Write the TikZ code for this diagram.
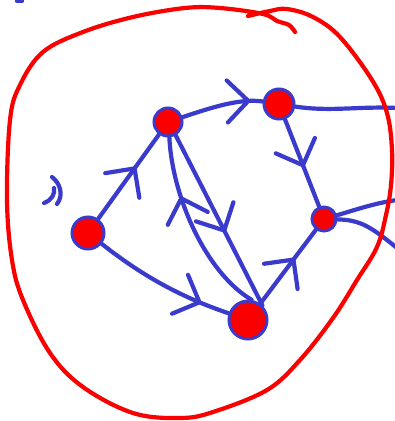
\documentclass[tikz,border=0pt]{standalone}
\usepackage{xcolor}
\usepackage{tikz}
\usetikzlibrary{arrows.meta,decorations.markings}
\definecolor{penblue}{RGB}{58,58,204}
\definecolor{penred}{RGB}{250,0,0}
\tikzset{
  vertexnode/.style={circle, draw=penblue, fill=penred, line width=3pt, inner sep=0pt},
  link/.style={penblue, line width=4.2pt, line cap=round, line join=round},
  flow/.style={link, postaction={decorate}, decoration={markings,
    mark=at position #1 with {\arrow{Straight Barb[round, length=21pt, width=42pt]}}}},
  outline/.style={penred, line width=4.2pt, line cap=round, line join=round}
}
\begin{document}
\begin{tikzpicture}[x=1pt, y=1pt]
\useasboundingbox (0,0) rectangle (395,-421);

\node[vertexnode, minimum size=32pt] (A) at (88,-233) {};
\node[vertexnode, minimum size=28pt] (B) at (168,-122) {};
\node[vertexnode, minimum size=30pt] (C) at (279,-104) {};
\node[vertexnode, minimum size=24pt] (D) at (324,-219) {};
\node[vertexnode, minimum size=38pt] (E) at (248,-320) {};

\coordinate (cout) at (397,-108);
\coordinate (dout) at (397,-200);
\coordinate (dlow) at (397,-248);

\draw[flow=0.62] (A) -- (B);
\draw[flow=0.8] (A) .. controls (150,-282) and (190,-300) .. (E);
\draw[flow=0.85] (B) .. controls (210,-108) and (240,-98) .. (C);
\draw[flow=0.57] (B.-60) -- (E.45);
\draw[flow=0.68] (E.80) .. controls (205,-272) and (172,-195) .. (B.-85);
\draw[flow=0.55] (C) -- (D);
\draw[flow=0.62] (E) -- (D);
\draw[link] (C) .. controls (330,-112) and (360,-106) .. (cout);
\draw[link] (D) .. controls (355,-210) and (375,-203) .. (dout);
\draw[link] (D) .. controls (360,-220) and (370,-226) .. (dlow);

\draw[link] (52,-177) .. controls (60,-183) and (64,-195) .. (57,-204);
\draw[link] (44,-203) .. controls (52,-200) and (55,-194) .. (54,-188);
\draw[link] (17,-1) -- (22,-1);

\draw[outline] plot[smooth, tension=0.6] coordinates {
  (295,-32) (289,-25) (277,-21) (263,-14) (220,-8) (185,-8) (133,-17)
  (83,-32) (43,-52) (20,-85) (10,-120) (7,-200) (12,-260) (23,-300)
  (50,-353) (83,-387) (133,-413) (180,-418) (213,-412) (267,-390)
  (300,-360) (333,-318) (357,-280) (377,-247) (386,-215) (391,-185)
  (392,-150) (387,-113) (372,-80) (340,-37) (313,-17) (287,-9)
  (270,-11) (248,-16)};
\end{tikzpicture}
\end{document}
